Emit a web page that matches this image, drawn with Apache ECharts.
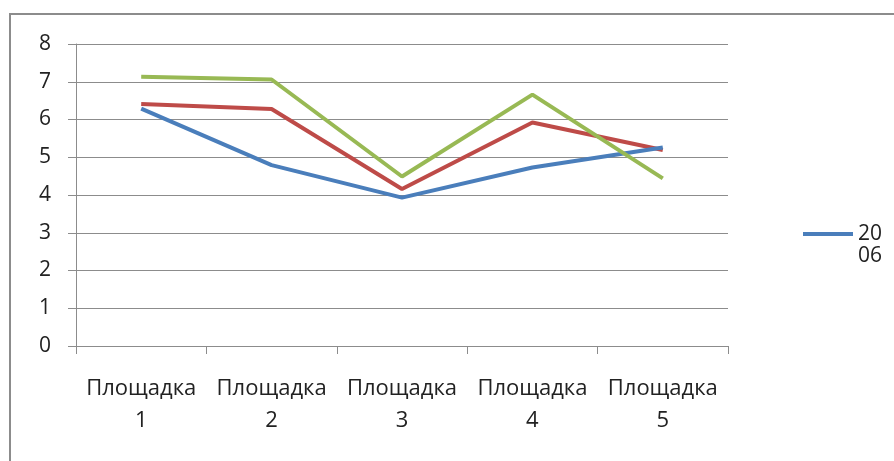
<!DOCTYPE html>
<html>
<head>
<meta charset="utf-8">
<style>
  html, body { margin: 0; padding: 0; background: #fff; }
  #chart { width: 894px; height: 461px; }
</style>
<script src="https://cdn.jsdelivr.net/npm/echarts@6/dist/echarts.min.js"></script>
</head>
<body>
<div id="chart"></div>
<script>
// Site names along the x axis
const categories = ['Площадка\n1', 'Площадка\n2', 'Площадка\n3', 'Площадка\n4', 'Площадка\n5'];
// Measured values per site for each year
const series2006 = [6.29, 4.79, 3.93, 4.73, 5.26];
const series2007 = [6.41, 6.28, 4.16, 5.92, 5.19];
const series2008 = [7.13, 7.06, 4.49, 6.66, 4.44];
const seriesNames = ['2006', '2007', '2008'];
const yTicks = { min: 0, max: 8, interval: 1 };

const FONT = 'Open Sans';
const chart = echarts.init(document.getElementById('chart'), null, { renderer: 'canvas' });

chart.setOption({
  animation: false,
  backgroundColor: '#ffffff',
  graphic: [{
    type: 'rect',
    shape: { x: 10, y: 14, width: 900, height: 470 },
    style: { fill: 'none', stroke: '#8c8c8c', lineWidth: 2 },
    silent: true
  }],
  grid: { left: 76, right: 166, top: 44, bottom: 115 },
  legend: {
    data: [seriesNames[0]],
    orient: 'vertical',
    left: 798,
    top: 196,
    itemWidth: 50,
    itemHeight: 4,
    icon: 'rect',
    // the legend text wraps in a narrow box; a leading blank line keeps the
    // swatch level with the first line of text
    formatter: name => ' \n' + name.slice(0, 2) + '\n' + name.slice(2),
    textStyle: { fontFamily: FONT, fontSize: 21, color: '#222', lineHeight: 22 }
  },
  xAxis: {
    type: 'category',
    data: categories,
    boundaryGap: true,
    axisLine: { lineStyle: { color: '#8c8c8c', width: 1 } },
    axisTick: { show: true, length: 8, alignWithLabel: false, lineStyle: { color: '#8c8c8c' } },
    axisLabel: {
      interval: 0, margin: 27, fontFamily: FONT, fontSize: 22, color: '#222', lineHeight: 32
    },
    splitLine: { show: false }
  },
  yAxis: {
    type: 'value',
    min: yTicks.min, max: yTicks.max, interval: yTicks.interval,
    axisLine: { show: true, lineStyle: { color: '#8c8c8c', width: 1 } },
    axisTick: { show: true, length: 8, lineStyle: { color: '#8c8c8c' } },
    axisLabel: { margin: 25, fontFamily: FONT, fontSize: 21, color: '#222' },
    splitLine: { show: true, lineStyle: { color: '#8c8c8c', width: 1 } }
  },
  series: [
    { name: seriesNames[0], type: 'line', data: series2006, symbol: 'none',
      lineStyle: { color: '#4a7ebb', width: 4 }, itemStyle: { color: '#4a7ebb' }, z: 3 },
    { name: seriesNames[1], type: 'line', data: series2007, symbol: 'none',
      lineStyle: { color: '#be4b48', width: 4 }, itemStyle: { color: '#be4b48' }, z: 2 },
    { name: seriesNames[2], type: 'line', data: series2008, symbol: 'none',
      lineStyle: { color: '#98b954', width: 4 }, itemStyle: { color: '#98b954' }, z: 4 }
  ]
});
</script>
</body>
</html>
